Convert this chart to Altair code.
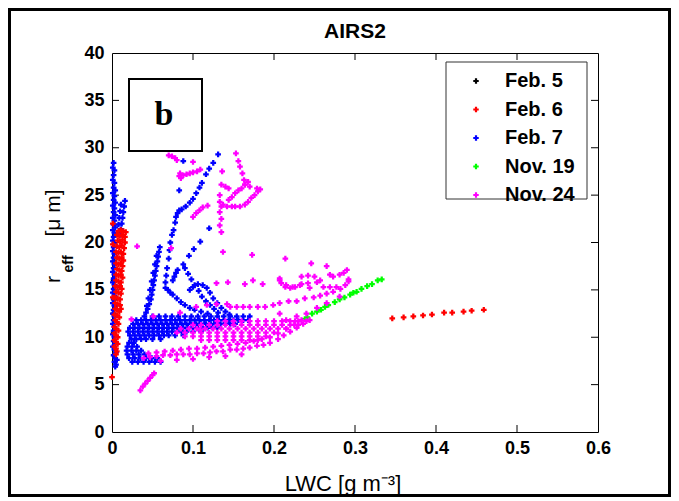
import altair as alt
import pandas as pd

series_names = ["Feb. 5", "Feb. 6", "Feb. 7", "Nov. 19", "Nov. 24"]
series_colors = ["#000000", "#ff0000", "#0000ff", "#00ff00", "#ff00ff"]

x_ticks = [0, 0.1, 0.2, 0.3, 0.4, 0.5, 0.6]
y_ticks = [0, 5, 10, 15, 20, 25, 30, 35, 40]
x_inner_ticks = [0.1, 0.2, 0.3, 0.4, 0.5]
y_inner_ticks = [5, 10, 15, 20, 25, 30, 35]

# ---- Feb. 5 (hidden under the Feb. 7 column) ----
feb5_pts = [(0.002, 10.5), (0.002, 12.5), (0.003, 14.0), (0.002, 16.0), (0.003, 18.0)]

# ---- Feb. 6 ----
feb6_pts = [
    (0.008, 21.2), (0.011, 21.3), (0.014, 21.2), (0.017, 21.1),
    (0.006, 20.8), (0.009, 20.7), (0.012, 20.8), (0.016, 20.6),
    (0.007, 20.2), (0.010, 20.1), (0.013, 20.3), (0.016, 20.0),
    (0.006, 19.6), (0.009, 19.5), (0.012, 19.7), (0.015, 19.4),
    (0.005, 19.0), (0.008, 18.9), (0.011, 19.0), (0.014, 18.8),
    (0.006, 18.4), (0.009, 18.3), (0.012, 18.4), (0.014, 18.1),
    (0.005, 17.8), (0.008, 17.7), (0.011, 17.8), (0.013, 17.5),
    (0.006, 17.2), (0.009, 17.1), (0.012, 17.0),
    (0.005, 16.6), (0.008, 16.5), (0.011, 16.6), (0.013, 16.3),
    (0.005, 16.0), (0.008, 15.9), (0.011, 15.8),
    (0.004, 15.4), (0.007, 15.3), (0.010, 15.4), (0.012, 15.1),
    (0.005, 14.8), (0.008, 14.7), (0.011, 14.6),
    (0.004, 14.2), (0.007, 14.1), (0.010, 14.0),
    (0.004, 13.6), (0.007, 13.5), (0.010, 13.4), (0.011, 13.0),
    (0.004, 13.0), (0.006, 12.9), (0.009, 12.7),
    (0.003, 12.4), (0.006, 12.3), (0.009, 12.1),
    (0.004, 11.8), (0.006, 11.6), (0.008, 11.4),
    (0.003, 11.1), (0.005, 10.9), (0.008, 10.7),
    (0.003, 10.4), (0.005, 10.2), (0.007, 10.0),
    (0.003, 9.7), (0.005, 9.5), (0.007, 9.3),
    (0.003, 9.0), (0.005, 8.8), (0.006, 8.5), (0.005, 8.2),
    (0.001, 22.0), (0.001, 19.8), (0.001, 14.2), (0.000, 5.8),
    (0.346, 12.0), (0.360, 12.1), (0.372, 12.2), (0.384, 12.3), (0.395, 12.4),
    (0.410, 12.6), (0.420, 12.6), (0.434, 12.7), (0.444, 12.8), (0.459, 12.9),
]

# ---- Feb. 7 ----
feb7_pts = [
    # column at LWC ~ 0
    (0.002, 28.4), (0.001, 27.9), (0.003, 27.6), (0.002, 27.1), (0.001, 26.6), (0.003, 26.3),
    (0.002, 25.8), (0.004, 25.5), (0.001, 25.2), (0.003, 24.9), (0.002, 24.5), (0.004, 24.2),
    (0.001, 23.9), (0.003, 23.6), (0.002, 23.2), (0.004, 22.9), (0.001, 22.6), (0.003, 22.3),
    (0.002, 21.9), (0.004, 21.6), (0.001, 21.3), (0.003, 21.0), (0.002, 20.6), (0.001, 20.2),
    (0.003, 19.9), (0.002, 19.5), (0.001, 19.1), (0.003, 18.8), (0.002, 18.4), (0.001, 18.0),
    (0.003, 17.7), (0.002, 17.3), (0.001, 16.9), (0.003, 16.6), (0.002, 16.2), (0.001, 15.8),
    (0.003, 15.5), (0.002, 15.1), (0.001, 14.7), (0.003, 14.4), (0.002, 14.0), (0.001, 13.6),
    (0.003, 13.3), (0.002, 12.9), (0.001, 12.5), (0.003, 12.2), (0.002, 11.8), (0.001, 11.4),
    (0.003, 11.1), (0.002, 10.7), (0.001, 10.3), (0.003, 10.0), (0.002, 9.6), (0.004, 9.3),
    (0.001, 9.0), (0.003, 8.7), (0.005, 8.4), (0.002, 8.1), (0.004, 7.8), (0.006, 7.6),
    (0.003, 7.4), (0.005, 7.1), (0.004, 6.9),
    # thin branch near the column top
    (0.016, 24.4), (0.015, 23.8), (0.014, 23.2), (0.013, 22.6), (0.012, 22.0), (0.011, 21.4),
    (0.010, 20.8), (0.011, 24.0), (0.010, 23.3), (0.009, 22.6), (0.008, 21.9),
    # streak rising to ~19.5
    (0.059, 19.5), (0.058, 19.0), (0.057, 18.5), (0.056, 18.0), (0.055, 17.5), (0.054, 17.0),
    (0.053, 16.5), (0.052, 16.0), (0.051, 15.5), (0.050, 15.0), (0.049, 14.5), (0.048, 14.0),
    (0.046, 13.5), (0.044, 13.0), (0.042, 12.6), (0.040, 12.2),
    (0.055, 18.6), (0.053, 17.7), (0.051, 16.8), (0.049, 15.9), (0.047, 15.0), (0.045, 14.1),
    (0.043, 13.3),
    # long diagonal line to ~29
    (0.131, 29.3), (0.125, 28.4), (0.120, 27.8), (0.116, 27.2), (0.111, 26.3), (0.108, 25.8),
    (0.104, 25.2), (0.100, 24.6), (0.096, 24.2), (0.091, 23.8), (0.086, 23.5), (0.083, 23.4),
    (0.081, 23.1), (0.079, 22.7), (0.078, 22.1), (0.076, 21.3), (0.074, 20.8), (0.072, 20.0),
    (0.071, 19.2), (0.070, 18.3), (0.068, 17.3), (0.067, 16.5), (0.066, 15.8), (0.066, 15.2),
    (0.069, 15.0), (0.072, 14.7), (0.075, 14.5), (0.080, 14.1), (0.085, 13.7), (0.090, 13.4),
    (0.096, 13.1), (0.102, 12.9), (0.110, 12.7), (0.118, 12.5),
    (0.088, 28.6), (0.083, 25.5),
    # second line
    (0.120, 21.5), (0.109, 20.1), (0.101, 19.3), (0.095, 18.6), (0.088, 17.7), (0.090, 17.3),
    (0.094, 16.7), (0.098, 16.1), (0.102, 15.5), (0.107, 14.9), (0.111, 14.3), (0.116, 13.8),
    (0.121, 13.4), (0.126, 13.0), (0.131, 12.6),
    # bump
    (0.096, 15.0), (0.100, 15.3), (0.106, 15.6), (0.112, 15.5), (0.117, 15.2), (0.121, 14.7),
    (0.125, 14.1), (0.130, 13.6), (0.135, 13.1), (0.140, 12.7), (0.145, 12.4),
    (0.075, 16.0), (0.077, 16.4), (0.079, 16.8), (0.081, 17.1),
]
feb7_band_rows = [
    (12.2, [0.050, 0.058, 0.066, 0.074, 0.082, 0.090, 0.098, 0.106, 0.114, 0.122, 0.130, 0.138,
            0.146, 0.154, 0.162, 0.170]),
    (11.8, [0.030, 0.036, 0.042, 0.048, 0.054, 0.060, 0.066, 0.072, 0.078, 0.084, 0.090, 0.096,
            0.102, 0.108, 0.114, 0.120, 0.126, 0.132, 0.138, 0.144, 0.150, 0.156, 0.162, 0.168]),
    (11.4, [0.026, 0.032, 0.038, 0.044, 0.050, 0.056, 0.062, 0.068, 0.074, 0.080, 0.086, 0.092,
            0.098, 0.104, 0.110, 0.116, 0.122, 0.128, 0.134, 0.140, 0.146, 0.152]),
    (11.0, [0.022, 0.028, 0.034, 0.040, 0.046, 0.052, 0.058, 0.064, 0.070, 0.076, 0.082, 0.088,
            0.094, 0.100, 0.106, 0.112, 0.118, 0.124, 0.130]),
    (10.6, [0.020, 0.026, 0.032, 0.038, 0.044, 0.050, 0.056, 0.062, 0.068, 0.074, 0.080, 0.086,
            0.092, 0.100, 0.110]),
    (10.2, [0.022, 0.028, 0.034, 0.040, 0.046, 0.052, 0.058, 0.064, 0.070, 0.078, 0.088]),
    (9.8, [0.024, 0.030, 0.036, 0.042, 0.050, 0.060]),
    (9.4, [0.021, 0.027]),
    (9.0, [0.019, 0.025, 0.031]),
    (8.6, [0.018, 0.024, 0.030, 0.036]),
    (8.2, [0.019, 0.026, 0.033, 0.040]),
    (7.8, [0.021, 0.028, 0.035, 0.042, 0.049, 0.056]),
    (7.4, [0.025, 0.032, 0.039, 0.046, 0.053, 0.060]),
]

# ---- Nov. 19 ----
nov19_pts = [
    (0.238, 11.9), (0.241, 12.1), (0.247, 12.5), (0.253, 12.7), (0.258, 12.9), (0.263, 13.2),
    (0.267, 13.4), (0.275, 13.7), (0.281, 14.0), (0.287, 14.2), (0.294, 14.5), (0.298, 14.7),
    (0.302, 14.8), (0.308, 15.1), (0.315, 15.4), (0.321, 15.6), (0.328, 16.0), (0.333, 16.1),
]

# ---- Nov. 24 ----
nov24_pts = [
    (0.035, 4.4), (0.038, 4.8), (0.041, 5.1), (0.044, 5.4), (0.047, 5.7), (0.050, 6.0), (0.052, 6.2),
    # lower band
    (0.039, 7.8), (0.047, 7.9), (0.055, 8.0), (0.063, 8.1), (0.072, 8.1), (0.080, 8.2), (0.088, 8.2),
    (0.096, 8.2), (0.105, 8.3), (0.113, 8.3), (0.121, 8.4), (0.129, 8.5), (0.137, 8.5), (0.146, 8.7),
    (0.154, 8.7), (0.162, 8.8), (0.170, 8.9), (0.179, 9.1), (0.187, 9.2), (0.195, 9.4),
    (0.045, 8.3), (0.055, 8.4), (0.065, 8.5), (0.075, 8.6), (0.085, 8.7), (0.095, 8.8), (0.105, 8.8),
    (0.115, 8.9), (0.125, 9.0), (0.135, 9.1), (0.145, 9.2), (0.155, 9.3), (0.165, 9.4), (0.175, 9.6),
    (0.185, 9.8), (0.195, 10.0),
    (0.060, 7.5), (0.080, 7.6), (0.100, 7.7), (0.120, 7.9), (0.140, 8.0), (0.160, 8.2),
    (0.205, 9.8), (0.212, 10.2), (0.220, 10.6), (0.228, 11.0), (0.236, 11.4), (0.244, 11.8),
    (0.205, 10.4), (0.215, 10.9), (0.225, 11.3),
    # line near 13-16
    (0.104, 13.2), (0.117, 13.4), (0.129, 13.5), (0.142, 13.5),
    (0.146, 13.2), (0.154, 13.2), (0.162, 13.2), (0.170, 13.2), (0.180, 13.2), (0.189, 13.2),
    (0.199, 13.4), (0.207, 13.6), (0.218, 13.8), (0.228, 13.8), (0.238, 14.1), (0.249, 14.2),
    (0.257, 14.4), (0.265, 14.6), (0.273, 14.8), (0.282, 15.1), (0.288, 15.5), (0.292, 15.9),
    # loop
    (0.207, 12.5), (0.228, 12.2), (0.240, 12.5), (0.253, 13.1), (0.265, 13.6), (0.281, 14.3),
    (0.215, 11.8), (0.226, 11.7), (0.234, 11.8),
    # scattered ~15.5-18
    (0.129, 15.7), (0.143, 15.8), (0.164, 15.6), (0.174, 16.0), (0.186, 15.6), (0.207, 16.0),
    (0.215, 15.5), (0.223, 15.3), (0.234, 15.6), (0.242, 16.5), (0.246, 17.8),
    (0.207, 16.2), (0.209, 15.7), (0.214, 15.3), (0.220, 15.2), (0.226, 15.3), (0.232, 15.5),
    (0.234, 16.4), (0.242, 15.7), (0.244, 15.2), (0.250, 16.4), (0.253, 15.8), (0.257, 16.0),
    (0.261, 15.3), (0.265, 17.5), (0.269, 16.6), (0.269, 15.3), (0.273, 16.4), (0.277, 15.3),
    (0.281, 16.6), (0.286, 16.8), (0.290, 17.1), (0.292, 16.1),
    (0.137, 19.0), (0.173, 18.7), (0.214, 18.3),
    # upper-left structures
    (0.070, 29.2), (0.074, 29.1), (0.078, 28.9), (0.080, 28.7), (0.100, 28.5),
    (0.083, 27.0), (0.085, 26.8), (0.084, 27.3), (0.088, 27.1), (0.092, 27.2), (0.096, 27.3),
    (0.100, 27.4), (0.105, 27.5), (0.109, 27.7),
    (0.100, 22.7), (0.104, 23.1), (0.108, 23.4), (0.112, 23.7), (0.118, 23.9),
    (0.073, 19.4), (0.031, 19.6), (0.136, 27.5), (0.153, 29.4),
    (0.156, 28.6), (0.158, 28.0), (0.161, 27.3), (0.163, 26.6), (0.164, 26.1), (0.168, 26.4),
    (0.170, 25.9),
    (0.135, 26.1), (0.140, 25.9), (0.144, 25.7), (0.133, 25.0), (0.133, 24.3), (0.135, 23.8),
    (0.133, 23.2), (0.135, 22.5), (0.133, 21.8), (0.135, 21.1), (0.137, 24.0), (0.142, 23.8),
    (0.148, 23.8), (0.152, 23.8), (0.158, 23.8), (0.164, 24.0), (0.168, 24.3), (0.172, 24.7),
    (0.176, 25.0), (0.180, 25.4), (0.183, 25.6), (0.179, 25.7), (0.144, 24.5), (0.148, 24.8),
    (0.152, 25.2), (0.156, 25.5), (0.160, 25.7), (0.164, 26.1),
    (0.024, 11.9), (0.051, 12.2), (0.084, 12.6), (0.109, 10.8),
]
nov24_band_rows = [
    (11.7, [0.130, 0.140, 0.150, 0.160, 0.170, 0.180, 0.190, 0.200, 0.210, 0.220, 0.230, 0.240]),
    (11.3, [0.100, 0.110, 0.120, 0.130, 0.140, 0.150, 0.160, 0.170, 0.180, 0.190, 0.200, 0.210,
            0.220, 0.230]),
    (10.9, [0.085, 0.095, 0.105, 0.115, 0.125, 0.135, 0.145, 0.155, 0.165, 0.175, 0.185, 0.195,
            0.205, 0.215]),
    (10.5, [0.080, 0.090, 0.100, 0.110, 0.120, 0.130, 0.140, 0.150, 0.160, 0.170, 0.180, 0.190,
            0.200]),
    (10.1, [0.090, 0.100, 0.110, 0.120, 0.130, 0.140, 0.150, 0.160, 0.170, 0.180, 0.190]),
    (9.7, [0.110, 0.120, 0.130, 0.140, 0.150, 0.160, 0.170, 0.180]),
]


def with_rows(pts, band_rows):
    out = list(pts)
    for yv, xs in band_rows:
        out.extend((xv, yv) for xv in xs)
    return out


# drawing order (the red Feb. 6 column sits on top of the blue Feb. 7 column)
draw_order = [
    ("Feb. 5", feb5_pts),
    ("Feb. 7", with_rows(feb7_pts, feb7_band_rows)),
    ("Feb. 6", feb6_pts),
    ("Nov. 19", nov19_pts),
    ("Nov. 24", with_rows(nov24_pts, nov24_band_rows)),
]
records = []
for name, pts in draw_order:
    for xv, yv in pts:
        records.append({"series": name, "lwc": xv, "reff": yv})
df = pd.DataFrame(records)

FONT = "Liberation Sans"
xscale = alt.Scale(domain=[0, 0.6], nice=False, zero=False)
yscale = alt.Scale(domain=[0, 40], nice=False, zero=False)

points = alt.Chart(df).mark_point(
    shape="cross", filled=True, size=32, opacity=1, strokeWidth=0
).encode(
    x=alt.X("lwc:Q", scale=xscale,
            axis=alt.Axis(values=x_ticks, format=".1~f", title=None, ticks=False, domain=False,
                          grid=False, labelFontSize=18, labelFontWeight="bold", labelFont=FONT,
                          labelColor="black", labelPadding=7, labelFlush=False)),
    y=alt.Y("reff:Q", scale=yscale,
            axis=alt.Axis(values=y_ticks, format="d", title=None, ticks=False, domain=False,
                          grid=False, labelFontSize=18, labelFontWeight="bold", labelFont=FONT,
                          labelColor="black", labelPadding=8, labelFlush=False)),
    color=alt.Color("series:N", scale=alt.Scale(domain=series_names, range=series_colors),
                    legend=alt.Legend(title=None, orient="none", legendX=354, legendY=18,
                                      padding=0, symbolType="cross", symbolSize=30,
                                      symbolOffset=0, symbolStrokeWidth=0, labelOffset=19,
                                      labelFontSize=20, labelFontWeight="bold", labelFont=FONT,
                                      labelColor="black", rowPadding=8.5)),
)

xt_df = pd.DataFrame({"lwc": x_inner_ticks})
yt_df = pd.DataFrame({"reff": y_inner_ticks})
tick_bottom = alt.Chart(xt_df).mark_rule(color="black", strokeWidth=1).encode(
    x=alt.X("lwc:Q", scale=xscale), y=alt.value(379), y2=alt.value(372))
tick_top = alt.Chart(xt_df).mark_rule(color="black", strokeWidth=1).encode(
    x=alt.X("lwc:Q", scale=xscale), y=alt.value(0), y2=alt.value(7))
tick_left = alt.Chart(yt_df).mark_rule(color="black", strokeWidth=1).encode(
    y=alt.Y("reff:Q", scale=yscale), x=alt.value(0), x2=alt.value(7))
tick_right = alt.Chart(yt_df).mark_rule(color="black", strokeWidth=1).encode(
    y=alt.Y("reff:Q", scale=yscale), x=alt.value(479), x2=alt.value(486))

one = pd.DataFrame({"k": [0]})
frame = alt.Chart(one).mark_rect(fill="white", fillOpacity=0, stroke="black", strokeWidth=3).encode(
    x=alt.value(-102.5), x2=alt.value(557.5), y=alt.value(-43.5), y2=alt.value(442.5))
bbox = alt.Chart(one).mark_rect(fill="white", stroke="black", strokeWidth=2).encode(
    x=alt.value(17), x2=alt.value(90), y=alt.value(26), y2=alt.value(98))
legend_box = alt.Chart(one).mark_rect(fill="white", stroke="#333333", strokeWidth=1).encode(
    x=alt.value(334), x2=alt.value(475), y=alt.value(9), y2=alt.value(146))


def label(text, x, y, size, weight="normal", font=FONT, angle=0, align="center"):
    return alt.Chart(pd.DataFrame({"t": [text]})).mark_text(
        fontSize=size, fontWeight=weight, font=font, angle=angle, align=align,
        baseline="alphabetic", color="black"
    ).encode(x=alt.value(x), y=alt.value(y), text="t:N")


b_text = label("b", 52, 72, 34, "bold", "Liberation Serif")
title_text = label("AIRS2", 243, -15, 21, "bold")
xtitle = label("LWC [g m\u207b\u00b3]", 231, 438, 22)
ytitle_r = label("r", -52, 226.5, 21, angle=270)
ytitle_eff = label("eff", -39, 211, 14, "bold", angle=270)
ytitle_unit = label("[\u03bc m]", -52, 160, 21, angle=270)

chart = alt.layer(
    frame, tick_bottom, tick_top, tick_left, tick_right, legend_box, points, bbox,
    b_text, title_text, xtitle, ytitle_r, ytitle_eff, ytitle_unit
).properties(
    width=486, height=379, padding=0, background="white"
).configure_view(stroke="black", strokeWidth=1)

chart.save("out.html", embed_options={"renderer": "svg", "actions": False})
